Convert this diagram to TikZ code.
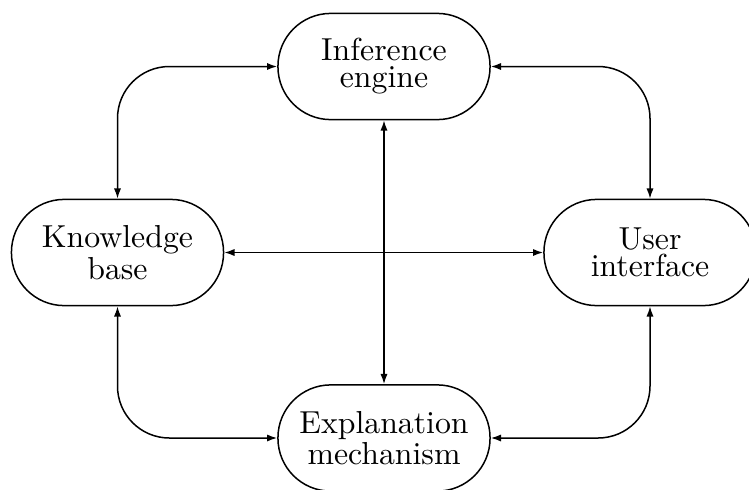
\documentclass[tikz,border=0pt]{standalone}
\usetikzlibrary{arrows.meta}
\begin{document}
\begin{tikzpicture}[
  x=0.33333pt, y=-0.33333pt,
  line width=0.5pt,
  blk/.style={draw, rectangle, rounded corners=17.6pt, inner sep=0pt,
    minimum width=70.7pt, minimum height=35.4pt, align=center,
    font=\fontsize{10.6pt}{9pt}\selectfont},
  link/.style={{Latex[length=3.4pt,width=2.4pt]}-{Latex[length=3.4pt,width=2.4pt]},
    rounded corners=17.3pt}
]
\useasboundingbox (0,0) rectangle (749,489);

% the four components
\node[blk] (ie) at (384,66.5)  {Inference\\engine};
\node[blk] (kb) at (117.5,252.5) {Knowledge\\base};
\node[blk] (ui) at (650,252.5) {User\\interface};
\node[blk] (em) at (384,438)   {Explanation\\mechanism};

% straight links through the middle
\draw[link] (ie.south) -- (em.north);
\draw[link] (kb.east) -- (ui.west);

% links around the outside
\draw[link] (kb.north) |- (ie.west);
\draw[link] (ui.north) |- (ie.east);
\draw[link] (kb.south) |- (em.west);
\draw[link] (ui.south) |- (em.east);
\end{tikzpicture}
\end{document}
